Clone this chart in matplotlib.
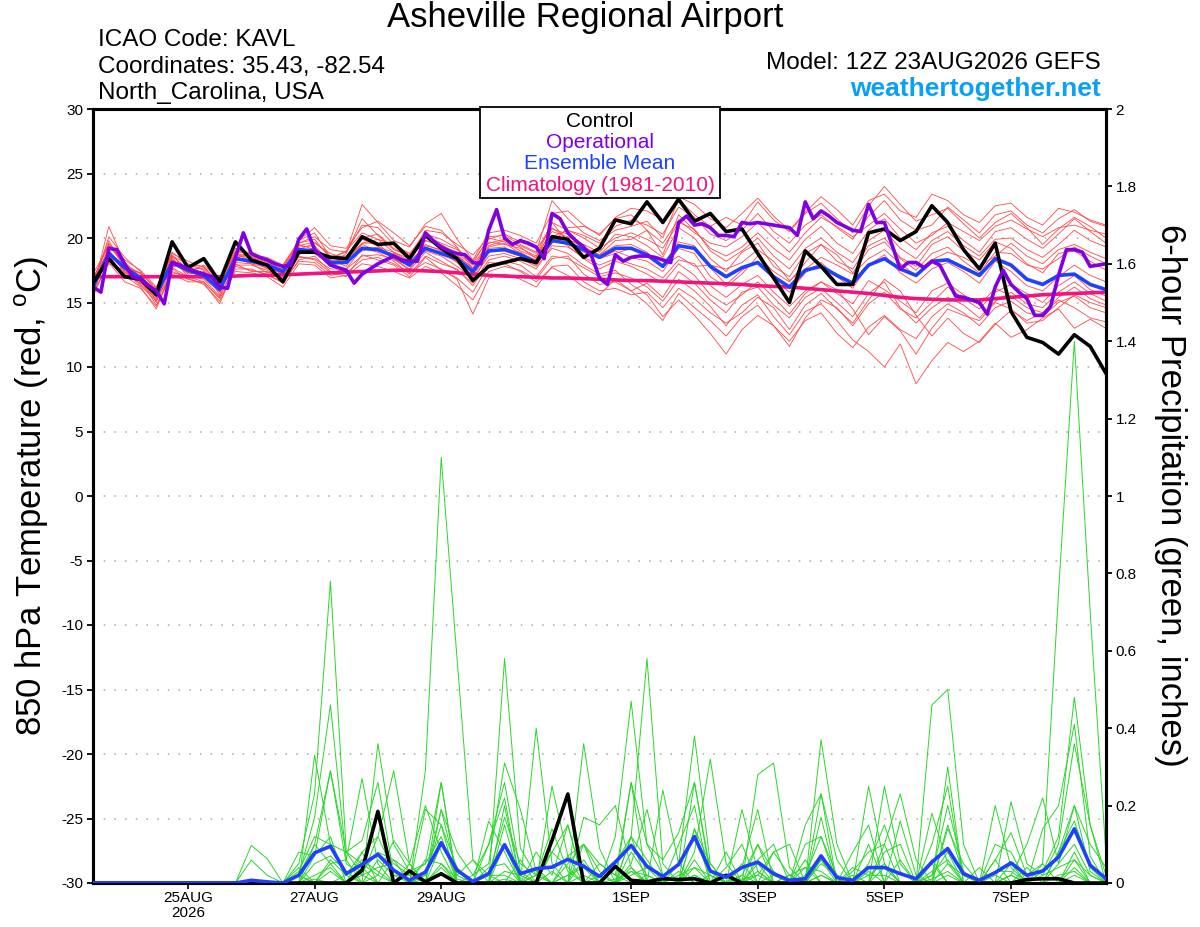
import numpy as np
import matplotlib
matplotlib.use("Agg")
import matplotlib.pyplot as plt
from matplotlib.patches import Rectangle
from matplotlib.ticker import FuncFormatter

plt.rcParams['font.family'] = ['Liberation Sans', 'DejaVu Sans']
plt.rcParams['axes.unicode_minus'] = False

# forecast hours from 12Z 23AUG2026 (6-hourly GEFS, 3-hourly operational)
hours = np.arange(0, 385, 6)
ops_hours = np.arange(0, 385, 3)

tick_hours = [36, 84, 132, 204, 252, 300, 348]
tick_labels = ["25AUG\n2026", "27AUG", "29AUG", "1SEP", "3SEP", "5SEP", "7SEP"]

# 850 hPa temperature (C)
control_t = [16.5, 18.4, 17.0, 16.8, 15.6, 19.7, 17.7, 18.4, 16.6, 19.7, 18.3, 17.9, 16.6,
             18.9, 18.9, 18.5, 18.4, 20.1, 19.5, 19.6, 18.4, 20.2, 19.2, 18.4, 16.7, 17.8,
             18.1, 18.4, 18.1, 20.1, 19.9, 18.5, 19.2, 21.4, 21.1, 22.8, 21.2, 23.0, 21.3,
             21.9, 20.5, 20.7, 18.8, 16.9, 15.0, 19.0, 17.8, 16.4, 16.4, 20.4, 20.7, 19.8,
             20.5, 22.5, 21.2, 19.1, 17.6, 19.6, 14.3, 12.3, 11.9, 11.0, 12.5, 11.6, 9.5]

mean_t = [16.2, 18.8, 17.7, 16.9, 15.6, 18.1, 17.5, 17.1, 16.0, 18.4, 18.2, 17.9, 17.4,
          19.1, 19.0, 18.1, 18.1, 19.2, 19.1, 18.6, 17.9, 19.2, 18.8, 18.4, 17.4, 19.0,
          19.1, 18.7, 18.1, 19.8, 19.6, 19.1, 18.5, 19.2, 19.2, 18.7, 17.8, 19.4, 19.2,
          17.8, 17.0, 17.7, 18.1, 17.0, 16.2, 17.5, 17.8, 17.1, 16.5, 17.9, 18.4, 17.6,
          17.1, 18.2, 18.3, 17.7, 17.1, 18.4, 17.9, 16.8, 16.4, 17.1, 17.2, 16.4, 16.0]

ops_t = [16.2, 15.8, 19.2, 19.1, 18.0, 17.0, 16.8, 16.3, 15.9, 14.9, 18.1, 17.9, 17.6,
         17.4, 17.2, 17.0, 16.2, 16.1, 18.5, 20.4, 18.8, 18.5, 18.3, 18.0, 17.8, 17.9,
         19.9, 20.7, 19.1, 18.5, 17.9, 17.7, 17.5, 16.5, 17.2, 17.6, 18.0, 18.3, 18.6,
         18.3, 18.2, 18.2, 20.4, 19.8, 19.3, 19.0, 18.8, 18.7, 18.1, 18.0, 20.6, 22.2,
         20.0, 19.5, 19.8, 19.6, 19.3, 18.4, 21.9, 21.5, 20.4, 19.8, 19.3, 18.6, 16.9,
         16.4, 18.7, 18.2, 18.5, 18.6, 18.6, 18.5, 18.3, 18.1, 21.2, 21.7, 21.0, 21.1,
         20.8, 20.2, 20.2, 20.1, 21.2, 21.1, 21.2, 21.1, 21.0, 20.9, 20.8, 20.2, 22.8,
         21.5, 22.1, 21.7, 21.2, 20.9, 20.6, 20.5, 22.6, 21.2, 21.2, 19.4, 17.6, 18.1,
         18.1, 17.7, 18.2, 17.9, 16.7, 15.5, 15.4, 15.2, 15.0, 14.1, 16.2, 17.5, 16.4,
         15.8, 15.3, 14.0, 14.0, 14.7, 17.1, 19.1, 19.1, 18.9, 17.8, 17.9, 18.0]

clim_t = [17.0, 17.0, 17.0, 17.0, 17.0, 17.0, 17.0, 17.0, 17.0, 17.05, 17.1, 17.1, 17.15,
          17.2, 17.25, 17.3, 17.35, 17.4, 17.45, 17.5, 17.5, 17.45, 17.4, 17.3, 17.2, 17.1,
          17.05, 17.0, 16.95, 16.9, 16.9, 16.85, 16.8, 16.75, 16.7, 16.7, 16.65, 16.6, 16.55,
          16.5, 16.45, 16.4, 16.3, 16.25, 16.2, 16.1, 16.0, 15.9, 15.8, 15.7, 15.55, 15.4,
          15.3, 15.25, 15.2, 15.2, 15.2, 15.3, 15.4, 15.5, 15.6, 15.65, 15.7, 15.75, 15.8]

member_t = [
    [16.0, 20.9, 18.0, 17.2, 15.0, 18.6, 18.0, 17.5, 15.6, 19.0, 18.8, 18.3, 17.0,
     19.8, 20.4, 18.5, 18.9, 21.0, 20.8, 19.5, 18.8, 20.3, 19.9, 19.2, 18.0, 20.1,
     20.2, 19.5, 18.9, 22.9, 21.5, 20.4, 19.8, 20.6, 20.9, 21.3, 20.0, 23.0, 21.8,
     20.9, 21.6, 21.0, 22.8, 21.4, 20.5, 21.9, 22.7, 21.5, 20.4, 22.5, 24.0, 22.6,
     21.3, 21.8, 22.3, 21.1, 20.0, 21.2, 21.9, 20.8, 19.5, 20.7, 21.6, 20.9, 20.0],
    [15.5, 18.2, 17.1, 16.2, 14.5, 17.6, 16.8, 16.5, 14.9, 17.8, 17.5, 17.2, 16.5,
     18.3, 18.6, 17.4, 17.0, 18.7, 18.3, 17.9, 17.0, 18.5, 17.5, 16.9, 15.8, 17.9,
     18.2, 17.9, 17.0, 18.6, 18.4, 17.7, 17.0, 17.3, 16.9, 16.2, 15.1, 16.8, 15.9,
     14.7, 13.2, 14.8, 15.6, 13.9, 12.5, 14.3, 14.9, 13.6, 12.1, 11.2, 10.0, 11.8,
     8.7, 10.5, 11.9, 11.2, 12.0, 13.4, 12.3, 12.9, 13.8, 14.5, 13.0, 13.7, 13.0],
    [16.8, 19.5, 18.1, 17.0, 16.0, 18.9, 17.9, 17.8, 16.3, 19.2, 18.7, 18.5, 17.9,
     19.6, 19.9, 18.4, 19.0, 20.4, 19.9, 18.9, 18.4, 19.8, 19.4, 18.7, 17.6, 19.7,
     19.5, 19.2, 18.6, 20.5, 20.1, 19.5, 18.9, 20.3, 20.1, 19.4, 18.5, 20.8, 20.0,
     18.4, 17.4, 18.9, 19.6, 17.8, 17.0, 18.8, 19.5, 18.2, 17.6, 19.4, 20.0, 18.5,
     17.8, 19.5, 20.1, 19.0, 18.3, 19.7, 19.2, 18.0, 17.3, 18.8, 19.0, 18.2, 17.5],
    [15.8, 18.0, 17.5, 16.6, 15.2, 17.3, 17.1, 16.8, 15.5, 17.9, 17.9, 17.5, 16.8,
     18.5, 18.4, 17.6, 17.6, 18.6, 18.7, 18.4, 17.5, 18.9, 18.2, 17.5, 16.5, 18.3,
     18.6, 18.2, 17.6, 19.4, 19.3, 18.5, 17.9, 18.4, 18.0, 17.6, 16.9, 18.3, 18.0,
     16.3, 15.4, 16.4, 17.1, 15.8, 14.7, 15.9, 16.6, 15.7, 14.9, 16.7, 16.0, 15.1,
     14.2, 15.9, 16.5, 15.6, 14.8, 16.1, 15.5, 14.6, 14.2, 15.4, 16.2, 15.3, 14.8],
    [16.4, 19.1, 17.3, 16.9, 15.8, 18.4, 17.2, 17.4, 16.2, 18.7, 18.6, 17.8, 17.6,
     19.3, 19.4, 18.0, 18.5, 19.9, 19.4, 18.3, 17.9, 19.5, 19.0, 18.4, 17.2, 19.3,
     19.6, 18.8, 18.3, 20.8, 19.9, 19.3, 18.7, 19.8, 19.9, 20.6, 18.7, 21.8, 20.6,
     19.2, 18.6, 19.3, 20.4, 19.2, 18.3, 19.9, 20.9, 19.6, 18.8, 20.6, 21.5, 20.0,
     19.1, 20.4, 20.9, 19.8, 18.9, 20.5, 20.8, 19.9, 19.2, 20.3, 21.5, 20.5, 19.6],
    [16.1, 18.5, 17.8, 17.3, 15.4, 17.9, 17.6, 16.9, 15.8, 18.2, 18.4, 18.0, 17.2,
     19.0, 19.2, 18.2, 18.3, 19.5, 19.0, 18.8, 18.1, 19.0, 18.6, 17.8, 16.9, 18.6,
     18.8, 18.4, 17.8, 19.2, 18.8, 17.9, 17.2, 17.5, 16.4, 15.6, 13.9, 15.2, 14.0,
     12.6, 11.0, 12.9, 14.0, 13.2, 11.6, 13.8, 15.2, 14.6, 13.2, 14.9, 15.8, 14.5,
     13.8, 15.0, 16.2, 15.3, 14.5, 15.8, 16.4, 15.7, 15.0, 16.3, 17.1, 16.0, 15.5],
    [16.6, 19.8, 17.6, 16.4, 15.3, 18.2, 17.4, 17.0, 16.1, 18.5, 18.0, 17.7, 17.3,
     19.2, 18.8, 17.9, 18.1, 19.0, 19.3, 18.9, 18.2, 19.4, 19.1, 18.6, 17.7, 19.4,
     19.8, 19.4, 18.8, 21.2, 20.6, 20.2, 19.6, 20.9, 21.4, 21.0, 20.3, 22.4, 21.6,
     20.3, 19.8, 20.6, 21.9, 20.5, 19.6, 21.0, 21.8, 20.8, 19.9, 21.7, 22.9, 21.4,
     20.6, 21.0, 22.4, 21.4, 20.4, 21.8, 22.1, 21.0, 20.4, 21.5, 22.2, 21.3, 20.9],
    [15.9, 18.6, 16.9, 16.7, 14.8, 17.4, 16.9, 16.4, 15.1, 17.6, 17.6, 17.1, 16.6,
     18.2, 18.1, 17.1, 17.3, 18.3, 18.5, 18.0, 17.3, 18.1, 17.6, 16.8, 14.1, 16.9,
     17.2, 16.8, 16.2, 17.8, 17.9, 16.6, 15.9, 16.1, 15.6, 15.8, 14.6, 16.1, 15.3,
     14.2, 13.4, 14.2, 15.4, 14.6, 12.9, 14.8, 15.7, 14.5, 13.4, 15.2, 16.8, 15.9,
     14.0, 12.4, 13.8, 12.6, 11.9, 13.3, 14.4, 13.6, 14.2, 15.2, 14.6, 13.8, 13.5],
    [16.3, 19.3, 18.3, 17.5, 16.2, 18.8, 18.2, 17.7, 16.6, 18.9, 18.9, 18.4, 17.8,
     19.6, 20.1, 19.1, 18.9, 22.6, 21.2, 19.8, 19.3, 21.1, 21.9, 19.9, 18.3, 20.4,
     20.6, 20.2, 19.6, 21.9, 22.1, 21.0, 20.2, 21.6, 22.3, 22.1, 21.4, 23.2, 22.6,
     21.5, 20.8, 21.9, 23.1, 21.7, 20.6, 22.0, 23.2, 22.2, 21.0, 22.9, 23.4, 22.1,
     21.6, 23.4, 22.9, 21.8, 21.2, 22.5, 22.7, 21.6, 21.0, 22.3, 22.0, 21.4, 21.0],
    [16.0, 18.9, 17.4, 16.8, 15.5, 18.0, 17.3, 17.3, 15.9, 18.6, 18.1, 17.9, 17.1,
     18.7, 19.3, 18.3, 17.8, 19.6, 19.6, 18.4, 17.6, 19.2, 18.9, 18.1, 17.0, 19.0,
     19.0, 18.6, 17.9, 19.9, 19.6, 19.2, 18.7, 19.4, 19.5, 18.9, 17.8, 19.7, 19.4,
     17.7, 16.4, 17.5, 18.2, 16.8, 15.8, 17.3, 18.1, 17.0, 16.1, 17.9, 18.7, 17.3,
     16.5, 17.6, 18.1, 17.4, 16.5, 18.2, 17.4, 16.3, 15.9, 17.0, 17.9, 17.1, 16.6],
    [17.2, 19.4, 17.9, 17.0, 15.9, 18.3, 17.7, 17.6, 16.3, 18.6, 18.5, 18.1, 17.5,
     19.4, 19.7, 18.6, 18.6, 20.0, 20.3, 19.2, 18.5, 19.8, 19.5, 18.8, 17.9, 19.6,
     19.9, 19.3, 18.4, 20.2, 19.4, 18.4, 17.6, 18.2, 17.8, 17.2, 16.5, 18.0, 17.1,
     15.6, 14.8, 15.6, 16.6, 15.4, 14.1, 15.7, 16.6, 16.0, 14.5, 12.5, 13.9, 12.8,
     11.0, 13.0, 14.5, 14.0, 13.6, 15.0, 14.5, 13.4, 13.6, 14.6, 15.6, 15.0, 14.6],
    [16.5, 18.3, 17.2, 16.5, 15.6, 17.8, 17.8, 17.1, 16.4, 18.3, 18.3, 17.6, 17.4,
     18.9, 19.0, 18.1, 18.2, 19.3, 19.0, 18.7, 17.8, 19.3, 18.7, 18.2, 16.6, 18.9,
     19.2, 18.9, 18.2, 20.1, 20.6, 20.0, 19.2, 20.0, 20.4, 19.9, 19.2, 21.2, 20.7,
     19.0, 18.2, 19.0, 20.0, 18.6, 17.6, 19.2, 20.0, 18.9, 18.1, 19.8, 20.6, 19.2,
     18.4, 19.8, 20.5, 19.4, 18.6, 19.9, 20.0, 19.1, 18.5, 19.5, 20.6, 19.8, 19.3],
    [16.2, 20.1, 18.5, 17.4, 15.9, 18.5, 17.0, 17.2, 16.0, 18.1, 18.0, 17.3, 17.7,
     19.5, 19.1, 17.8, 18.8, 21.5, 20.2, 19.1, 18.6, 20.6, 20.4, 19.5, 18.7, 20.0,
     19.7, 19.0, 18.5, 21.2, 19.7, 18.9, 18.4, 19.0, 18.5, 18.2, 17.4, 19.2, 18.8,
     17.0, 16.2, 17.2, 18.6, 17.4, 16.6, 18.1, 19.5, 18.7, 17.3, 19.1, 19.7, 18.4,
     17.5, 18.8, 19.3, 18.2, 17.3, 18.9, 18.8, 17.9, 17.6, 18.4, 19.3, 18.6, 18.0],
    [15.7, 18.1, 16.6, 16.1, 14.7, 17.2, 16.6, 16.6, 15.3, 17.4, 17.3, 17.0, 16.2,
     18.0, 17.9, 16.9, 17.1, 18.0, 17.8, 17.4, 16.9, 17.8, 17.3, 16.3, 15.2, 17.4,
     17.8, 17.5, 16.8, 18.4, 18.6, 17.2, 16.4, 16.6, 15.9, 16.5, 15.4, 17.4, 16.5,
     15.2, 14.2, 15.8, 16.2, 14.8, 13.8, 15.4, 16.1, 15.0, 13.9, 15.7, 16.6, 14.6,
     13.4, 14.6, 15.4, 14.8, 13.8, 15.1, 15.8, 14.9, 14.6, 15.8, 16.6, 15.7, 15.1],
    [16.9, 19.0, 17.6, 17.3, 16.1, 18.7, 17.3, 17.9, 16.7, 18.8, 18.6, 18.2, 17.9,
     19.8, 20.8, 19.4, 19.2, 20.8, 21.3, 20.4, 19.4, 20.9, 20.6, 19.3, 17.6, 19.2,
     19.3, 18.6, 18.0, 19.6, 20.8, 20.9, 20.3, 21.5, 21.8, 20.6, 19.6, 21.4, 20.4,
     19.6, 19.3, 20.1, 21.2, 20.0, 18.9, 20.4, 21.6, 20.9, 20.1, 21.0, 21.9, 20.7,
     19.6, 20.2, 21.2, 20.5, 19.8, 20.9, 21.4, 20.7, 20.1, 20.8, 21.0, 20.6, 20.3],
    [15.9, 18.8, 17.4, 16.3, 15.1, 17.7, 17.0, 16.6, 15.4, 18.0, 17.4, 17.4, 16.9,
     18.6, 18.3, 17.3, 17.6, 19.2, 18.9, 18.2, 17.2, 18.6, 18.0, 17.6, 16.3, 18.1,
     18.0, 17.4, 16.6, 17.7, 17.1, 16.2, 15.6, 16.8, 15.9, 14.9, 13.6, 15.7, 14.6,
     13.6, 12.4, 13.9, 14.8, 13.2, 12.0, 13.6, 14.2, 12.6, 11.5, 13.1, 14.0, 12.9,
     12.2, 13.9, 14.9, 14.2, 13.2, 14.6, 15.1, 14.2, 13.9, 15.0, 15.5, 14.6, 14.2],
    [16.7, 19.6, 17.9, 16.6, 15.7, 18.6, 17.6, 17.3, 16.2, 18.8, 18.2, 18.0, 17.6,
     19.1, 19.6, 18.8, 18.4, 19.6, 19.9, 19.5, 18.7, 20.1, 19.6, 19.1, 18.2, 19.9,
     20.3, 19.7, 19.2, 20.7, 20.3, 19.3, 18.4, 18.8, 19.2, 18.8, 17.8, 18.6, 17.8,
     17.9, 17.6, 18.1, 19.1, 18.2, 16.7, 17.6, 18.5, 17.9, 17.2, 18.4, 19.1, 18.0,
     17.1, 18.3, 18.9, 18.5, 17.8, 18.6, 19.6, 18.6, 18.0, 19.1, 19.5, 18.9, 18.4],
]

# 6-hour precipitation (inches)
control_p = [0, 0, 0, 0, 0, 0, 0, 0, 0, 0, 0, 0, 0,
             0, 0, 0, 0, 0.033, 0.185, 0, 0.031, 0.003, 0.024, 0, 0, 0,
             0, 0, 0, 0.11, 0.23, 0, 0, 0.043, 0.007, 0.003, 0.011, 0.009, 0.011,
             0, 0.02, 0, 0, 0, 0, 0, 0, 0, 0, 0, 0, 0,
             0, 0, 0, 0, 0, 0, 0, 0.009, 0.011, 0.011, 0, 0, 0]

mean_p = [0, 0, 0, 0, 0, 0, 0, 0, 0, 0, 0.007, 0.003, 0,
          0.02, 0.078, 0.095, 0.024, 0.048, 0.074, 0.033, 0.007, 0.028, 0.104, 0.033, 0.004, 0.024,
          0.099, 0.024, 0.037, 0.041, 0.061, 0.043, 0.017, 0.054, 0.097, 0.043, 0.017, 0.048, 0.12,
          0.031, 0.015, 0.04, 0.054, 0.024, 0.007, 0.011, 0.07, 0.014, 0.007, 0.04, 0.04, 0.024,
          0.011, 0.054, 0.089, 0.024, 0.007, 0.027, 0.052, 0.02, 0.031, 0.067, 0.14, 0.046, 0.011]

member_p = [
    [0, 0, 0, 0, 0, 0, 0, 0, 0, 0, 0.097, 0.063, 0,
     0.02, 0.1, 0.29, 0.05, 0.02, 0.12, 0.03, 0.0, 0.29, 1.10, 0.58, 0.06, 0.02,
     0.17, 0.05, 0.02, 0.0, 0.07, 0.10, 0.03, 0.0, 0.05, 0.19, 0.02, 0.0, 0.14,
     0.05, 0.0, 0.02, 0.10, 0.03, 0.0, 0.02, 0.12, 0.02, 0.0, 0.05, 0.15, 0.03,
     0.0, 0.02, 0.20, 0.03, 0.0, 0.06, 0.13, 0.02, 0.05, 0.75, 1.40, 0.70, 0.07],
    [0, 0, 0, 0, 0, 0, 0, 0, 0, 0, 0.059, 0.02, 0,
     0.05, 0.23, 0.78, 0.08, 0.02, 0.0, 0.06, 0.03, 0.0, 0.10, 0.02, 0.0, 0.0,
     0.58, 0.09, 0.02, 0.14, 0.03, 0.0, 0.0, 0.12, 0.47, 0.10, 0.02, 0.0, 0.08,
     0.32, 0.05, 0.0, 0.02, 0.08, 0.02, 0.0, 0.06, 0.02, 0.0, 0.0, 0.10, 0.23,
     0.06, 0.0, 0.02, 0.0, 0.0, 0.0, 0.02, 0.10, 0.22, 0.05, 0.20, 0.03, 0.0],
    [0, 0, 0, 0, 0, 0, 0, 0, 0, 0, 0, 0, 0,
     0.02, 0.17, 0.46, 0.06, 0.27, 0.05, 0.0, 0.0, 0.19, 0.15, 0.04, 0.0, 0.16,
     0.08, 0.0, 0.40, 0.05, 0.0, 0.36, 0.09, 0.0, 0.12, 0.58, 0.05, 0.0, 0.02,
     0.0, 0.0, 0.0, 0.28, 0.31, 0.04, 0.0, 0.02, 0.0, 0.0, 0.25, 0.05, 0.0,
     0.0, 0.18, 0.05, 0.0, 0.0, 0.20, 0.04, 0.0, 0.03, 0.12, 0.48, 0.15, 0.02],
    [0, 0, 0, 0, 0, 0, 0, 0, 0, 0, 0, 0, 0,
     0.0, 0.33, 0.10, 0.02, 0.0, 0.36, 0.10, 0.03, 0.05, 0.26, 0.0, 0.02, 0.05,
     0.31, 0.19, 0.03, 0.0, 0.0, 0.17, 0.15, 0.20, 0.04, 0.0, 0.24, 0.05, 0.38,
     0.05, 0.0, 0.04, 0.19, 0.0, 0.0, 0.0, 0.37, 0.10, 0.0, 0.0, 0.25, 0.05,
     0.0, 0.46, 0.50, 0.10, 0.0, 0.0, 0.21, 0.05, 0.02, 0.10, 0.36, 0.15, 0.0],
    [0, 0, 0, 0, 0, 0, 0, 0, 0, 0, 0, 0, 0,
     0.08, 0.07, 0.29, 0.08, 0.11, 0.26, 0.02, 0.0, 0.02, 0.19, 0.08, 0.02, 0.10,
     0.26, 0.03, 0.0, 0.25, 0.07, 0.0, 0.0, 0.0, 0.26, 0.10, 0.06, 0.13, 0.26,
     0.02, 0.0, 0.19, 0.03, 0.0, 0.0, 0.15, 0.23, 0.06, 0.0, 0.0, 0.0, 0.16,
     0.02, 0.0, 0.30, 0.0, 0.0, 0.0, 0.02, 0.0, 0.14, 0.20, 0.41, 0.07, 0.0],
    [0, 0, 0, 0, 0, 0, 0, 0, 0, 0, 0, 0, 0,
     0.0, 0.10, 0.05, 0.0, 0.08, 0.12, 0.29, 0.05, 0.0, 0.26, 0.0, 0.0, 0.0,
     0.20, 0.0, 0.08, 0.02, 0.15, 0.0, 0.05, 0.02, 0.0, 0.02, 0.0, 0.10, 0.20,
     0.0, 0.04, 0.10, 0.0, 0.08, 0.10, 0.0, 0.17, 0.0, 0.08, 0.15, 0.0, 0.0,
     0.0, 0.10, 0.25, 0.0, 0.04, 0.0, 0.0, 0.0, 0.0, 0.08, 0.20, 0.10, 0.04],
    [0, 0, 0, 0, 0, 0, 0, 0, 0, 0, 0, 0, 0,
     0.03, 0.12, 0.10, 0.08, 0.05, 0.02, 0.11, 0.05, 0.0, 0.19, 0.02, 0.06, 0.0,
     0.15, 0.0, 0.04, 0.0, 0.0, 0.10, 0.05, 0.02, 0.26, 0.0, 0.0, 0.0, 0.14,
     0.0, 0.08, 0.0, 0.10, 0.0, 0.0, 0.10, 0.12, 0.0, 0.0, 0.10, 0.0, 0.0,
     0.0, 0.0, 0.15, 0.02, 0.0, 0.06, 0.0, 0.0, 0.0, 0.05, 0.10, 0.02, 0.0],
    [0, 0, 0, 0, 0, 0, 0, 0, 0, 0, 0, 0, 0,
     0.0, 0.05, 0.07, 0.03, 0.0, 0.06, 0.02, 0.02, 0.05, 0.12, 0.0, 0.0, 0.04,
     0.05, 0.0, 0.0, 0.03, 0.0, 0.06, 0.0, 0.05, 0.12, 0.0, 0.0, 0.0, 0.06,
     0.0, 0.0, 0.0, 0.05, 0.0, 0.02, 0.0, 0.05, 0.02, 0.0, 0.0, 0.04, 0.0,
     0.0, 0.06, 0.0, 0.0, 0.0, 0.0, 0.05, 0.0, 0.0, 0.0, 0.06, 0.0, 0.0],
    [0, 0, 0, 0, 0, 0, 0, 0, 0, 0, 0, 0, 0,
     0.04, 0.0, 0.03, 0.0, 0.04, 0.0, 0.0, 0.0, 0.0, 0.04, 0.0, 0.0, 0.0,
     0.10, 0.0, 0.0, 0.0, 0.02, 0.05, 0.0, 0.0, 0.04, 0.0, 0.0, 0.0, 0.04,
     0.0, 0.0, 0.0, 0.03, 0.0, 0.0, 0.0, 0.06, 0.0, 0.0, 0.03, 0.0, 0.0,
     0.0, 0.02, 0.08, 0.0, 0.0, 0.0, 0.0, 0.0, 0.0, 0.0, 0.04, 0.0, 0.0],
    [0, 0, 0, 0, 0, 0, 0, 0, 0, 0, 0, 0, 0,
     0.02, 0.0, 0.06, 0.02, 0.08, 0.0, 0.0, 0.05, 0.20, 0.08, 0.0, 0.0, 0.02,
     0.02, 0.0, 0.0, 0.08, 0.04, 0.0, 0.02, 0.0, 0.08, 0.02, 0.0, 0.03, 0.0,
     0.02, 0.0, 0.0, 0.0, 0.02, 0.0, 0.04, 0.0, 0.0, 0.03, 0.08, 0.10, 0.0,
     0.0, 0.0, 0.05, 0.02, 0.0, 0.02, 0.0, 0.0, 0.05, 0.0, 0.08, 0.0, 0.0],
    [0, 0, 0, 0, 0, 0, 0, 0, 0, 0, 0, 0, 0,
     0.0, 0.02, 0.04, 0.0, 0.02, 0.04, 0.05, 0.02, 0.0, 0.05, 0.01, 0.0, 0.0,
     0.03, 0.02, 0.0, 0.0, 0.02, 0.04, 0.0, 0.0, 0.02, 0.04, 0.0, 0.02, 0.04,
     0.02, 0.0, 0.02, 0.0, 0.0, 0.02, 0.04, 0.03, 0.0, 0.04, 0.02, 0.05, 0.0,
     0.0, 0.03, 0.06, 0.0, 0.0, 0.03, 0.03, 0.0, 0.02, 0.04, 0.06, 0.02, 0.0],
    [0, 0, 0, 0, 0, 0, 0, 0, 0, 0, 0, 0, 0,
     0.0, 0.01, 0.0, 0.02, 0.06, 0.03, 0.0, 0.0, 0.01, 0.02, 0.0, 0.0, 0.0,
     0.01, 0.0, 0.02, 0.0, 0.0, 0.02, 0.0, 0.01, 0.03, 0.02, 0.0, 0.0, 0.02,
     0.0, 0.0, 0.01, 0.02, 0.0, 0.0, 0.0, 0.02, 0.0, 0.0, 0.02, 0.02, 0.0,
     0.0, 0.01, 0.03, 0.0, 0.0, 0.0, 0.02, 0.0, 0.0, 0.02, 0.03, 0.0, 0.0],
    [0, 0, 0, 0, 0, 0, 0, 0, 0, 0, 0, 0, 0,
     0.0, 0.07, 0.12, 0.0, 0.03, 0.08, 0.06, 0.0, 0.02, 0.15, 0.0, 0.0, 0.10,
     0.22, 0.0, 0.02, 0.08, 0.15, 0.0, 0.0, 0.0, 0.12, 0.06, 0.0, 0.0, 0.26,
     0.03, 0.0, 0.0, 0.06, 0.10, 0.0, 0.0, 0.23, 0.0, 0.02, 0.0, 0.08, 0.10,
     0.0, 0.0, 0.14, 0.05, 0.0, 0.10, 0.08, 0.0, 0.0, 0.08, 0.16, 0.04, 0.0],
    [0, 0, 0, 0, 0, 0, 0, 0, 0, 0, 0, 0, 0,
     0.02, 0.0, 0.05, 0.06, 0.0, 0.02, 0.0, 0.0, 0.06, 0.05, 0.0, 0.0, 0.02,
     0.0, 0.06, 0.0, 0.0, 0.05, 0.10, 0.0, 0.0, 0.03, 0.0, 0.0, 0.05, 0.0,
     0.0, 0.0, 0.05, 0.0, 0.0, 0.0, 0.06, 0.0, 0.0, 0.0, 0.0, 0.0, 0.06,
     0.0, 0.05, 0.0, 0.0, 0.0, 0.0, 0.0, 0.04, 0.0, 0.0, 0.02, 0.0, 0.0],
]

legend_items = ["Control", "Operational", "Ensemble Mean", "Climatology (1981-2010)"]

RED = "#ff4848"
GREEN = "#2ad62a"
PURPLE = "#8000e0"
BLUE = "#2040ff"
PINK = "#f0147f"
legend_colors = ["black", PURPLE, BLUE, PINK]

fig = plt.figure(figsize=(12, 9.27), dpi=100)
ax = fig.add_axes([93 / 1200, 44 / 927, 1013 / 1200, 774 / 927])
ax2 = ax.twinx()

# temperature
for m in member_t:
    ax.plot(hours, m, color=RED, lw=0.6, zorder=2)
ax.plot(hours, clim_t, color=PINK, lw=2.6, zorder=3)
ax.plot(hours, mean_t, color=BLUE, lw=2.6, zorder=4)
ax.plot(hours, control_t, color="black", lw=2.6, zorder=5)
ax.plot(ops_hours, ops_t, color=PURPLE, lw=2.6, zorder=6)

ax.set_xlim(0, 384)
ax.set_ylim(-30, 30)
ax.set_yticks(np.arange(-30, 31, 5))
for yv in range(-25, 30, 5):
    ax.axhline(yv, color="#a8a8a8", lw=1.1, ls=(0, (1, 6)), zorder=1)

ax.set_xticks(tick_hours)
ax.set_xticklabels(tick_labels, fontsize=11, linespacing=1.1)
ax.tick_params(axis="y", labelsize=11, direction="out", length=4, width=1.3, pad=3)
ax.tick_params(axis="x", direction="out", length=4, width=1.2, pad=2)

# precipitation
for m in member_p:
    ax2.plot(hours, m, color=GREEN, lw=0.7, zorder=2)
ax2.plot(hours, control_p, color="black", lw=2.6, zorder=3)
ax2.plot(hours, mean_p, color=BLUE, lw=2.6, zorder=4)
ax2.set_ylim(0, 2)
ax2.set_yticks(np.arange(0, 2.01, 0.2))
ax2.yaxis.set_major_formatter(FuncFormatter(lambda v, p: "%g" % round(v, 1)))
ax2.tick_params(axis="y", labelsize=11, direction="out", length=4, width=1.3, pad=3)

for a in (ax, ax2):
    for s in a.spines.values():
        s.set_linewidth(2.2)

# legend box
ax2.add_patch(Rectangle((0.382, 0.885), 0.237, 0.118, transform=ax2.transAxes,
                        facecolor="white", edgecolor="black", lw=1.3, zorder=10,
                        clip_on=False))
for i, (lab, col) in enumerate(zip(legend_items, legend_colors)):
    ax2.text(0.5005, 0.984 - i * 0.0275, lab, color=col, fontsize=15,
             ha="center", va="center", transform=ax2.transAxes, zorder=11)

# headings
fig.text(0.4875, 1 - 18 / 927, "Asheville Regional Airport", fontsize=25,
         ha="center", va="center")
info = ["ICAO Code: KAVL", "Coordinates: 35.43, -82.54", "North_Carolina, USA"]
for i, t in enumerate(info):
    fig.text(98 / 1200, 1 - (40 + 26.5 * i) / 927, t, fontsize=17.5, ha="left", va="center")
fig.text(1101 / 1200, 1 - 63 / 927, "Model: 12Z 23AUG2026 GEFS", fontsize=17.5,
         ha="right", va="center")
fig.text(1101 / 1200, 1 - 89 / 927, "weathertogether.net", fontsize=19,
         fontweight="bold", color="#0aa0f5", ha="right", va="center")

fig.text(32 / 1200, 1 - 496 / 927, "850 hPa Temperature (red, $^\\mathregular{o}$C)",
         fontsize=25, rotation=90, ha="center", va="center")
fig.text(1170 / 1200, 1 - 495 / 927, "6-hour Precipitation (green, inches)",
         fontsize=25, rotation=-90, ha="center", va="center")

fig.savefig("out.png", dpi=100)
